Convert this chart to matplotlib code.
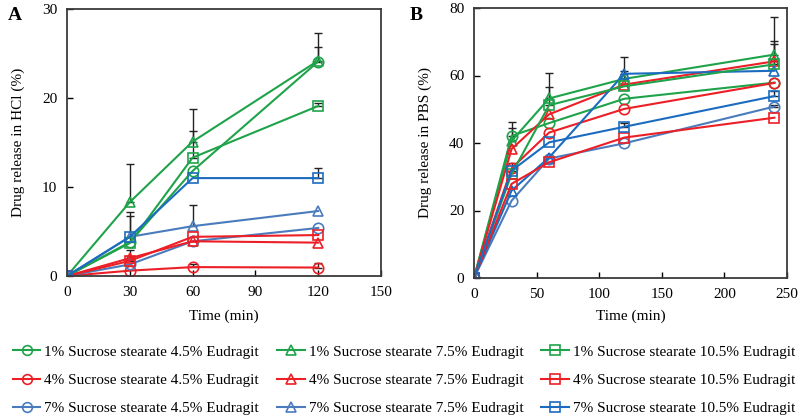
import matplotlib
matplotlib.use("Agg")
import matplotlib.pyplot as plt
from matplotlib.lines import Line2D
import numpy as np

plt.rcParams['font.family'] = ['Liberation Serif', 'DejaVu Serif']

# ---- data ----
time_a = [0, 30, 60, 120]
time_b = [0, 30, 60, 120, 240]

labels = [
    "1% Sucrose stearate 4.5% Eudragit",
    "4% Sucrose stearate 4.5% Eudragit",
    "7% Sucrose stearate 4.5% Eudragit",
    "1% Sucrose stearate 7.5% Eudragit",
    "4% Sucrose stearate 7.5% Eudragit",
    "7% Sucrose stearate 7.5% Eudragit",
    "1% Sucrose stearate 10.5% Eudragit",
    "4% Sucrose stearate 10.5% Eudragit",
    "7% Sucrose stearate 10.5% Eudragit",
]

# Panel A (HCl)
a_g_c = [0, 3.8, 11.8, 24.1]
a_r_c = [0, 0.6, 1.0, 0.95]
a_b_c = [0, 1.3, 3.9, 5.4]
a_g_t = [0, 8.3, 15.1, 24.2]
a_r_t = [0, 2.0, 3.9, 3.75]
a_b_t = [0, 4.4, 5.6, 7.3]
a_g_s = [0, 3.7, 13.3, 19.1]
a_r_s = [0, 1.7, 4.4, 4.6]
a_b_s = [0, 4.4, 11.0, 11.0]

a_err_g_c = [0, 3.4, 0, 1.6]
a_err_r_c = [0, 0, 0.4, 0.55]
a_err_b_c = [0, 0, 0, 0]
a_err_g_t = [0, 4.3, 3.7, 3.1]
a_err_r_t = [0, 0.9, 0, 0]
a_err_b_t = [0, 0, 2.4, 0]
a_err_g_s = [0, 0, 3.0, 0.3]
a_err_r_s = [0, 0.6, 0, 0]
a_err_b_s = [0, 2.3, 0, 1.1]

# Panel B (PBS)
b_g_c = [0, 42.1, 45.9, 53.1, 57.9]
b_r_c = [0, 32.5, 43.1, 50.1, 57.8]
b_b_c = [0, 22.9, 35.4, 39.9, 50.8]
b_g_t = [0, 40.6, 53.2, 59.0, 66.2]
b_r_t = [0, 38.2, 48.5, 57.3, 64.2]
b_b_t = [0, 25.9, 35.7, 60.5, 61.4]
b_g_s = [0, 30.8, 51.2, 56.8, 63.3]
b_r_s = [0, 27.9, 34.3, 41.6, 47.5]
b_b_s = [0, 31.8, 40.2, 44.8, 53.9]

b_err_g_c = [0, 2.4, 0, 0, 0]
b_err_r_c = [0, 0, 0, 0, 0]
b_err_b_c = [0, 0, 0, 0, 0.6]
b_err_g_t = [0, 5.7, 7.4, 6.5, 11.0]
b_err_r_t = [0, 0, 0, 0, 5.1]
b_err_b_t = [0, 0, 0, 0.8, 0]
b_err_g_s = [0, 0, 5.5, 0, 6.8]
b_err_r_s = [0, 0, 0, 0, 0]
b_err_b_s = [0, 2.3, 0, 1.0, 1.6]

# ---- styles ----
GREEN = '#1fa34a'
RED = '#ec1f26'
BLUE_L = '#4a7cbd'
BLUE_D = '#1b6cc0'
colors = [GREEN, RED, BLUE_L, GREEN, RED, BLUE_L, GREEN, RED, BLUE_D]
markers = ['o', 'o', 'o', '^', '^', '^', 's', 's', 's']

series_a = [a_g_c, a_r_c, a_b_c, a_g_t, a_r_t, a_b_t, a_g_s, a_r_s, a_b_s]
errs_a = [a_err_g_c, a_err_r_c, a_err_b_c, a_err_g_t, a_err_r_t, a_err_b_t,
          a_err_g_s, a_err_r_s, a_err_b_s]
series_b = [b_g_c, b_r_c, b_b_c, b_g_t, b_r_t, b_b_t, b_g_s, b_r_s, b_b_s]
errs_b = [b_err_g_c, b_err_r_c, b_err_b_c, b_err_g_t, b_err_r_t, b_err_b_t,
          b_err_g_s, b_err_r_s, b_err_b_s]
colors_b = [GREEN, RED, BLUE_L, GREEN, RED, BLUE_D, GREEN, RED, BLUE_D]

W, H = 800, 417
fig = plt.figure(figsize=(8, 4.17), dpi=100)
axA = fig.add_axes([67 / W, 1 - 276 / H, (381 - 67) / W, (276 - 9) / H])
axB = fig.add_axes([474 / W, 1 - 278 / H, (787 - 474) / W, (278 - 8) / H])

FS = 11


def draw(ax, t, series, errs, cols):
    t = np.array(t)
    for y, e, c, m in zip(series, errs, cols, markers):
        y = np.array(y)
        e = np.array(e)
        mask = e > 0
        if mask.any():
            ax.errorbar(t[mask], y[mask], yerr=[np.zeros(mask.sum()), e[mask]],
                        fmt='none', ecolor='#222222', elinewidth=1.0,
                        capsize=3, capthick=1.0, zorder=1)
    for y, c, m in zip(series, cols, markers):
        ax.plot(t, y, color=c, marker=m, markersize=7.5, markerfacecolor='none',
                markeredgecolor=c, markeredgewidth=1.2, linewidth=1.5, zorder=2)
    for sp in ax.spines.values():
        sp.set_color('#3a3a3a')
        sp.set_linewidth(1.3)
    ax.tick_params(direction='in', length=4, width=1, labelsize=FS,
                   top=False, right=False, pad=7)


draw(axA, time_a, series_a, errs_a, colors)
draw(axB, time_b, series_b, errs_b, colors_b)

axA.set_xlim(0, 150)
axA.set_ylim(0, 30)
axA.set_xticks([0, 30, 60, 90, 120, 150])
axA.set_yticks([0, 10, 20, 30])
axA.set_xlabel('Time (min)', fontsize=FS, labelpad=8)
axA.set_ylabel('Drug release in HCl (%)', fontsize=FS, labelpad=12)

axB.set_xlim(0, 250)
axB.set_ylim(0, 80)
axB.set_xticks([0, 50, 100, 150, 200, 250])
axB.set_yticks([0, 20, 40, 60, 80])
axB.set_xlabel('Time (min)', fontsize=FS, labelpad=6)
axB.set_ylabel('Drug release in PBS (%)', fontsize=FS, labelpad=12)

fig.text(8 / W, 1 - 16 / H, 'A', fontsize=14, fontweight='bold', va='center')
fig.text(410 / W, 1 - 16 / H, 'B', fontsize=14, fontweight='bold', va='center')

handles = [Line2D([0], [0], color=c, marker=m, markersize=7, markerfacecolor='none',
                  markeredgecolor=c, markeredgewidth=1.2, linewidth=1.5)
           for c, m in zip(colors, markers)]
fig.legend(handles, labels, ncol=3, loc='center', bbox_to_anchor=(404 / W, 1 - 380 / H),
           frameon=False, fontsize=FS, handlelength=1.8, handletextpad=0.25,
           columnspacing=1.2, labelspacing=0.95, borderpad=0.1, borderaxespad=0)

fig.savefig('out.png', dpi=100)
